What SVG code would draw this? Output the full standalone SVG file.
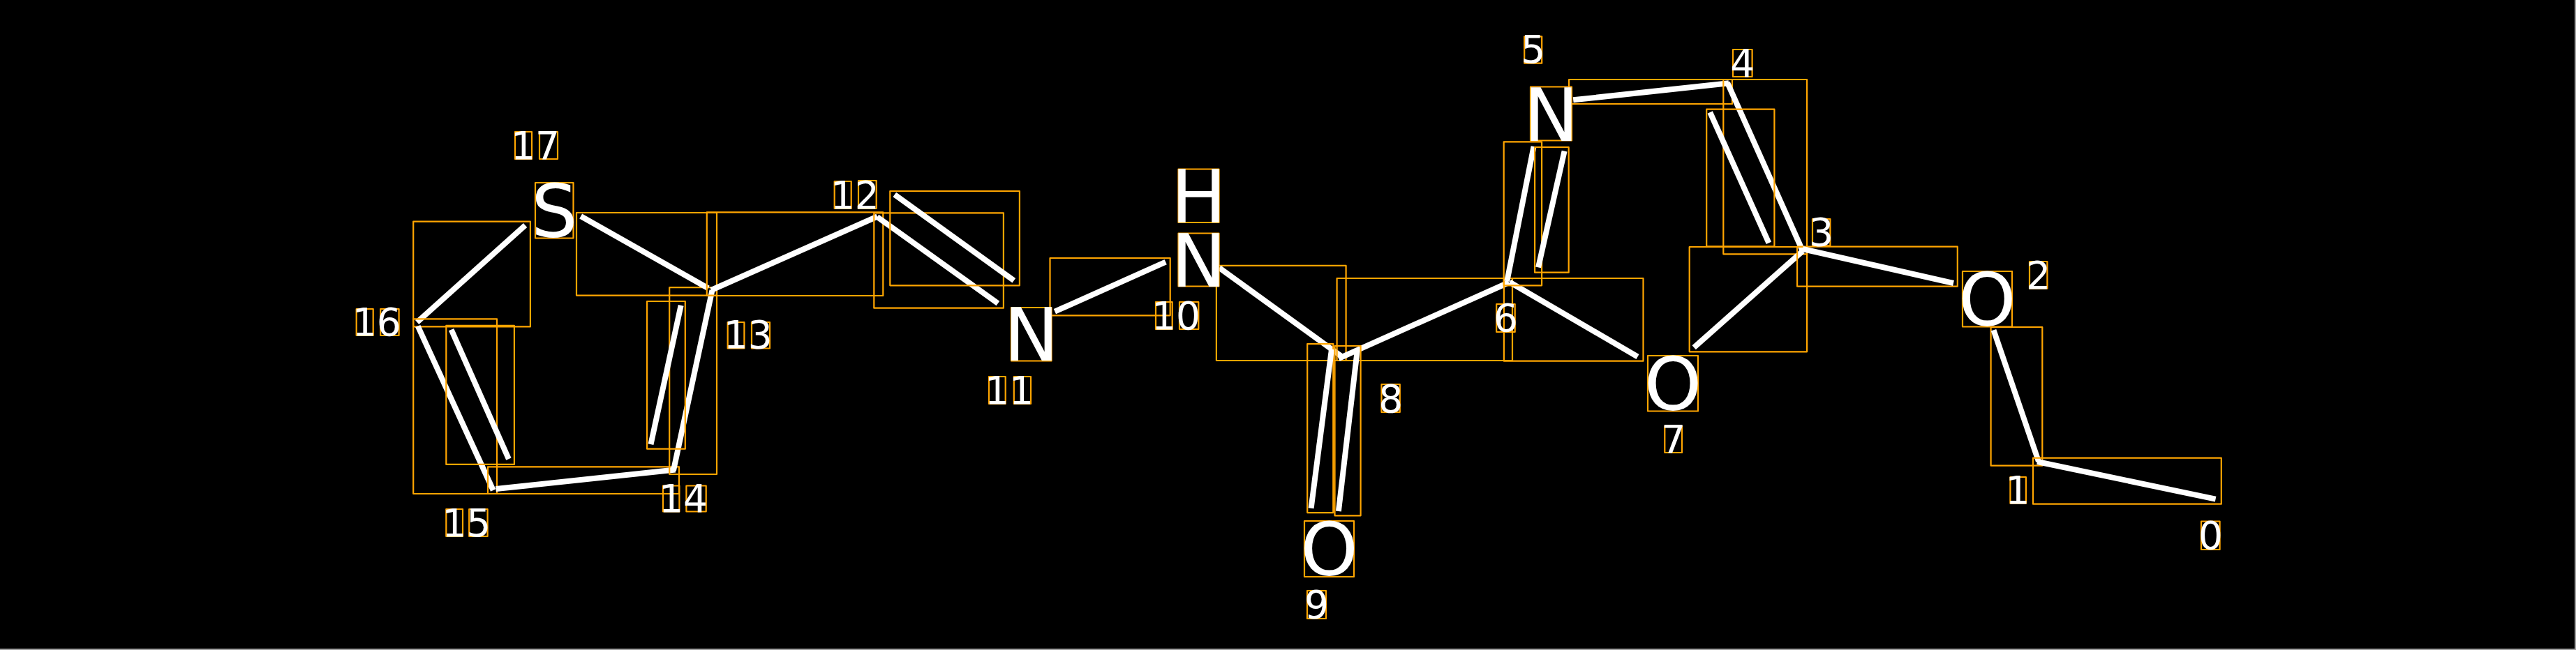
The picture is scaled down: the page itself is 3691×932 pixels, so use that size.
<svg xmlns="http://www.w3.org/2000/svg" width="3691" height="932" viewBox="0 0 3691 932">
<style>
.bg{fill:#000}
.box{fill:none;stroke:#FFA500;stroke-width:2.2;stroke-linejoin:round}
.bond{stroke:#fff;stroke-width:8;stroke-linecap:butt;fill:none}
.el{fill:#fff;font-family:"DejaVu Sans","Liberation Sans",sans-serif;font-size:105px;text-anchor:middle}
.idx{fill:#fff;font-family:"DejaVu Sans","Liberation Sans",sans-serif;font-size:55px}
.mid{text-anchor:middle}
.frame{stroke:#a0a0a0;stroke-width:2}
</style>
<rect class="bg" x="0" y="0" width="3691" height="932"/>
<line class="frame" x1="3690" y1="0" x2="3690" y2="932"/>
<line class="frame" x1="0" y1="931" x2="3691" y2="931"/>

<g id="connectors">
  <g id="bond-17-16"><rect class="box" x="592.2" y="317.6" width="167.7" height="150.8"/><line class="bond" x1="752.6" y1="323" x2="597.6" y2="461.9"/></g>
  <g id="bond-16-15"><rect class="box" x="592.2" y="457.3" width="119.8" height="250.7"/><line class="bond" x1="598.7" y1="467.6" x2="706.7" y2="703"/>
    <rect class="box" x="639.3" y="466.9" width="97.6" height="199"/><line class="bond" x1="646.6" y1="472.6" x2="728.9" y2="658.2"/></g>
  <g id="bond-15-14"><rect class="box" x="699" y="669.3" width="274" height="38.7"/><line class="bond" x1="710.5" y1="701.1" x2="967.7" y2="673.5"/></g>
  <g id="bond-14-13"><rect class="box" x="959.2" y="412.2" width="67.8" height="267.8"/><line class="bond" x1="965" y1="674.3" x2="1020.5" y2="416"/>
    <rect class="box" x="927.1" y="432" width="54.7" height="211.7"/><line class="bond" x1="975.7" y1="437.8" x2="932.5" y2="637.2"/></g>
  <g id="bond-17-13"><rect class="box" x="826" y="305" width="201" height="118.6"/><line class="bond" x1="832.2" y1="310" x2="1014.7" y2="413.3"/></g>
  <g id="bond-13-12"><rect class="box" x="1012.8" y="304.3" width="252.5" height="119.7"/><line class="bond" x1="1019" y1="416" x2="1257" y2="310.5"/></g>
  <g id="bond-12-11"><rect class="box" x="1252.3" y="305.3" width="185.6" height="136.4"/><line class="bond" x1="1256.9" y1="311" x2="1429.9" y2="435"/>
    <rect class="box" x="1275.3" y="274" width="185.6" height="135.3"/><line class="bond" x1="1281.8" y1="279" x2="1452.8" y2="402.3"/></g>
  <g id="bond-11-10"><rect class="box" x="1504.5" y="370" width="172.2" height="82.3"/><line class="bond" x1="1511.4" y1="446.7" x2="1670.2" y2="375.7"/></g>
  <g id="bond-10-8"><rect class="box" x="1742.9" y="380.9" width="185.7" height="136.1"/><line class="bond" x1="1747" y1="384" x2="1925" y2="513"/></g>
  <g id="bond-8-6"><rect class="box" x="1915.6" y="399" width="251.4" height="118"/><line class="bond" x1="1918" y1="514" x2="2162" y2="405"/></g>
  <g id="bond-8-9"><rect class="box" x="1873.2" y="493.1" width="37.1" height="242"/><line class="bond" x1="1908" y1="500.8" x2="1878.6" y2="728.8"/>
    <rect class="box" x="1912.5" y="496" width="37.1" height="243.3"/><line class="bond" x1="1944.6" y1="504.3" x2="1917.9" y2="733"/></g>
  <g id="bond-6-7"><rect class="box" x="2154.9" y="399" width="199.6" height="118.7"/><line class="bond" x1="2163" y1="404.5" x2="2346.5" y2="511.5"/></g>
  <g id="bond-5-6"><rect class="box" x="2154.7" y="203.3" width="54.4" height="206"/><line class="bond" x1="2197.6" y1="210" x2="2159.3" y2="403.3"/>
    <rect class="box" x="2199.1" y="211" width="48.6" height="179.7"/><line class="bond" x1="2241.6" y1="216.7" x2="2204.1" y2="383.3"/></g>
  <g id="bond-5-4"><rect class="box" x="2248.1" y="114" width="233.9" height="35"/><line class="bond" x1="2254.2" y1="143.3" x2="2477" y2="119.3"/></g>
  <g id="bond-4-3"><rect class="box" x="2469.3" y="114" width="119.8" height="250.3"/><line class="bond" x1="2475" y1="118.3" x2="2583" y2="360"/>
    <rect class="box" x="2445.2" y="156.7" width="97.2" height="196.6"/><line class="bond" x1="2450.2" y1="161" x2="2534.4" y2="348.3"/></g>
  <g id="bond-3-7"><rect class="box" x="2420.7" y="354" width="168.4" height="150.3"/><line class="bond" x1="2583" y1="360" x2="2427.2" y2="498.3"/></g>
  <g id="bond-3-2"><rect class="box" x="2575.1" y="353.7" width="229.7" height="57"/><line class="bond" x1="2583" y1="357" x2="2799" y2="406"/></g>
  <g id="bond-2-1"><rect class="box" x="2852.6" y="469" width="73.7" height="198.7"/><line class="bond" x1="2856.5" y1="473.3" x2="2921" y2="661.7"/></g>
  <g id="bond-1-0"><rect class="box" x="2913" y="656.7" width="269.8" height="66"/><line class="bond" x1="2919" y1="662" x2="3174.6" y2="715.7"/></g>
</g>

<g id="atom-0"><rect class="box" x="3154" y="747.5" width="26.6" height="40.5"/><text class="idx mid" x="3167.5" y="787">0</text></g>
<g id="atom-1"><rect class="box" x="2880.4" y="684" width="22.5" height="37.7"/><text class="idx mid" x="2891.1" y="721.7">1</text></g>
<g id="atom-2"><rect class="box" x="2812" y="389" width="71" height="79.5"/><text class="el" x="2847.4" y="467">O</text>
  <rect class="box" x="2908" y="375" width="25.4" height="38.7"/><text class="idx mid" x="2920.8" y="413.7">2</text></g>
<g id="atom-3"><rect class="box" x="2597" y="314" width="25.4" height="38.3"/><text class="idx mid" x="2609.8" y="351.6">3</text></g>
<g id="atom-4"><rect class="box" x="2483" y="71" width="27.6" height="39"/><text class="idx mid" x="2496.8" y="110">4</text></g>
<g id="atom-5"><rect class="box" x="2193" y="124.5" width="59" height="77"/><text class="el" x="2222.5" y="201.7">N</text>
  <rect class="box" x="2184.2" y="52.3" width="25" height="38.4"/><text class="idx mid" x="2196.7" y="90">5</text></g>
<g id="atom-6"><rect class="box" x="2144.2" y="436" width="26.5" height="40"/><text class="idx mid" x="2157.4" y="475">6</text></g>
<g id="atom-7"><rect class="box" x="2361" y="510" width="72" height="79.5"/><text class="el" x="2397" y="588">O</text>
  <rect class="box" x="2385.3" y="611" width="24.7" height="38"/><text class="idx mid" x="2397.7" y="648.7">7</text></g>
<g id="atom-8"><rect class="box" x="1979.5" y="551" width="26.3" height="40"/><text class="idx mid" x="1992.7" y="590.6">8</text></g>
<g id="atom-9"><rect class="box" x="1869" y="747" width="71" height="80"/><text class="el" x="1904.5" y="825.3">O</text>
  <rect class="box" x="1873" y="847" width="27" height="40"/><text class="idx mid" x="1886.5" y="886">9</text></g>
<g id="atom-10"><rect class="box" x="1688.5" y="242.5" width="58" height="76.5"/><text class="el" x="1717.5" y="319">H</text>
  <rect class="box" x="1688.5" y="334.5" width="58" height="76"/><text class="el" x="1717.5" y="410.7">N</text>
  <rect class="box" x="1656" y="433" width="23.7" height="39"/><rect class="box" x="1690" y="433" width="27.3" height="39"/><text class="idx" x="1650" y="471.7">10</text></g>
<g id="atom-11"><rect class="box" x="1449" y="441" width="57.5" height="76.5"/><text class="el" x="1477.7" y="517.3">N</text>
  <rect class="box" x="1417" y="540" width="23.7" height="39"/><rect class="box" x="1452.8" y="540" width="24.2" height="39"/><text class="idx" x="1410.9" y="579">11</text></g>
<g id="atom-12"><rect class="box" x="1195.7" y="260" width="24" height="39"/><rect class="box" x="1230" y="259" width="25.7" height="40"/><text class="idx" x="1189.7" y="298.5">12</text></g>
<g id="atom-13"><rect class="box" x="1042.7" y="462" width="23.7" height="37.5"/><rect class="box" x="1077" y="462" width="26" height="37.5"/><text class="idx" x="1036.7" y="499.4">13</text></g>
<g id="atom-14"><rect class="box" x="950" y="696.5" width="23.4" height="37"/><rect class="box" x="983.4" y="696.5" width="28.3" height="37"/><text class="idx" x="944" y="733.6">14</text></g>
<g id="atom-15"><rect class="box" x="639.3" y="730" width="23.7" height="39"/><rect class="box" x="672.2" y="730" width="26.4" height="39"/><text class="idx" x="633.3" y="769">15</text></g>
<g id="atom-16"><rect class="box" x="510.7" y="443" width="24" height="38"/><rect class="box" x="545.2" y="443" width="26.4" height="38"/><text class="idx" x="504.7" y="481">16</text></g>
<g id="atom-17"><rect class="box" x="767" y="262" width="54.5" height="79.5"/><text class="el" x="794.3" y="340">S</text>
  <rect class="box" x="738" y="189" width="24" height="39"/><rect class="box" x="773" y="189" width="26" height="39"/><text class="idx" x="732" y="227.7">17</text></g>
</svg>
